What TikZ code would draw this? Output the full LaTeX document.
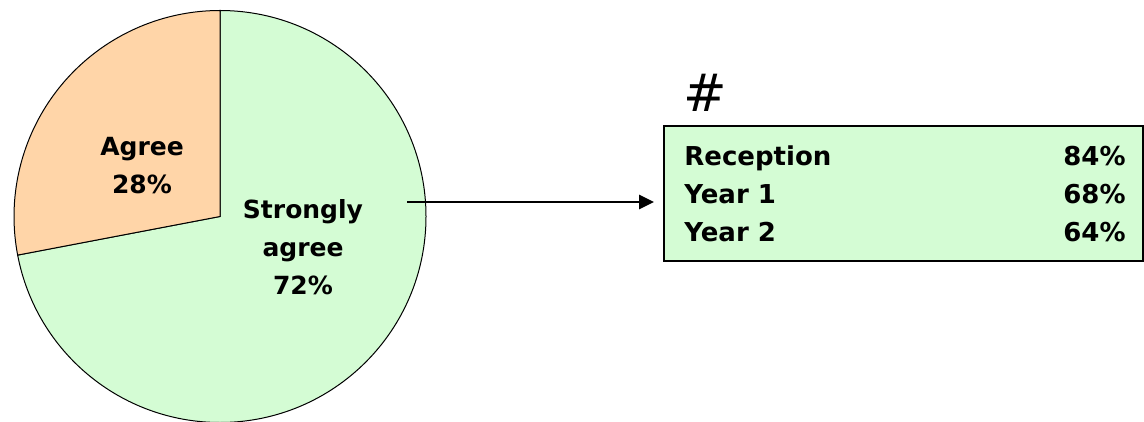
\documentclass[tikz,border=0pt]{standalone}
\usepackage{fontspec}
\setmainfont{DejaVu Sans}
\usetikzlibrary{arrows.meta,positioning}

\definecolor{agreefill}{HTML}{FFD5A8}
\definecolor{strongfill}{HTML}{D4FCD4}

\tikzset{
    slicelabel/.style={font=\bfseries\fontsize{12.5}{19}\selectfont, align=center},
    rowtext/.style={font=\bfseries\fontsize{13}{19}\selectfont, inner sep=0pt},
}

\begin{document}
\begin{tikzpicture}[x=0.5pt, y=-0.5pt]
    \useasboundingbox (0, 0) rectangle (1144, 422);
    % pie slices (y is flipped, so angles run clockwise)
    \filldraw[fill=strongfill, line width=0.5pt] (220, 216.5) -- ++(-90:206) arc[start angle=-90, end angle=169.2, radius=206] -- cycle;
    \filldraw[fill=agreefill, line width=0.5pt] (220, 216.5) -- ++(-90:206) arc[start angle=-90, end angle=-190.8, radius=206] -- cycle;

    % slice labels
    \node[slicelabel] (agree) at (142, 166) {Agree\\28\%};
    \node[slicelabel] (strongly) at (303, 247) {Strongly\\agree\\72\%};

    % breakdown box
    \node[draw, line width=1.1pt, fill=strongfill, minimum width=239.5pt, minimum height=67.5pt, anchor=north west] (box) at (663, 125) {};
    \node[font=\fontsize{26}{26}\selectfont, anchor=base west, inner sep=0pt] (hash) at (683, 112) {\#};

    \node[rowtext, anchor=base west] (rec) at (684, 166) {Reception};
    \node[rowtext, anchor=base west] (y1) at (684, 204) {Year 1};
    \node[rowtext, anchor=base west] (y2) at (684, 242) {Year 2};
    \node[rowtext, anchor=base east] (recp) at (1126, 166) {84\%};
    \node[rowtext, anchor=base east] (y1p) at (1126, 204) {68\%};
    \node[rowtext, anchor=base east] (y2p) at (1126, 242) {64\%};

    % arrow to box
    \coordinate (start) at (407, 202);
    \draw[-{Triangle[length=7.5pt, width=7pt]}, line width=1.3pt, shorten >=4.5pt] (start) -- (start -| box.west);
\end{tikzpicture}
\end{document}
